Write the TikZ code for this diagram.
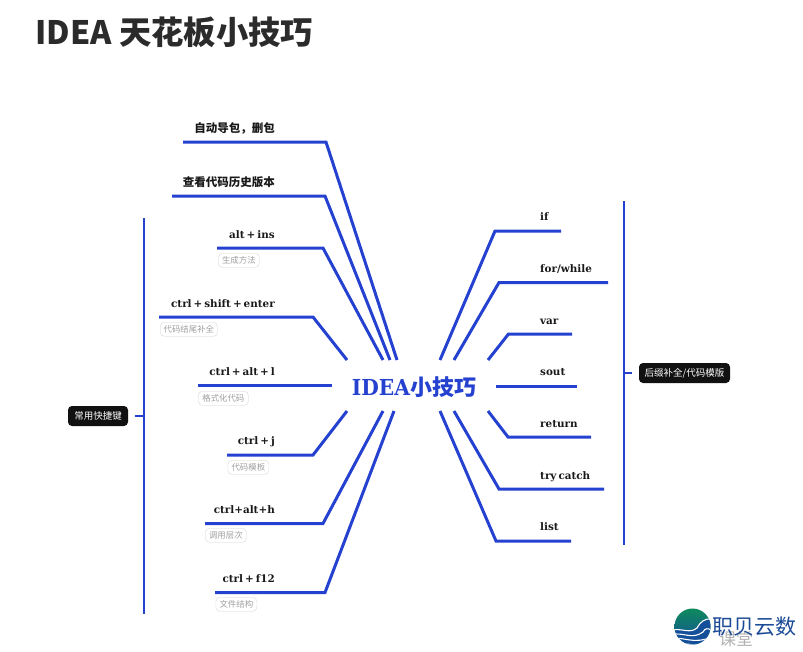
\documentclass[tikz,border=0pt]{standalone}
\usepackage{fontspec}
\usetikzlibrary{shadings}
\setmainfont{DejaVu Serif}
\newfontfamily\cjk{Noto Sans CJK SC}
\newfontfamily\lat[WordSpace=0.55]{DejaVu Serif}
\newfontfamily\hublat[FakeStretch=0.92]{DejaVu Serif}
\definecolor{lineblue}{HTML}{2541CF}
\definecolor{darkbox}{HTML}{111111}
\definecolor{titlecol}{HTML}{2B2B2B}
\definecolor{logoblue}{HTML}{14509A}
\definecolor{logogreen}{HTML}{0E8A5C}
\definecolor{logonavy}{HTML}{1B4A96}
\tikzset{
  x=1pt,y=-1pt,
  branch/.style={draw=lineblue,line width=3pt,line join=miter},
  bracket/.style={draw=lineblue,line width=2pt},
  tiptext/.style={inner sep=0pt,anchor=base east,font=\lat\bfseries\fontsize{10.4}{12}\selectfont,text=black!90},
  tiptextcjk/.style={inner sep=0pt,anchor=base east,font=\cjk\bfseries\fontsize{11.5}{13}\selectfont,text=black!90},
  righttext/.style={inner sep=0pt,anchor=base west,font=\lat\bfseries\fontsize{10.4}{12}\selectfont,text=black!90},
  notebox/.style={draw=black!10,rounded corners=4pt,line width=0.7pt,inner sep=0pt,minimum height=14pt,anchor=north west,font=\cjk\fontsize{8.4}{10}\selectfont,text=black!38},
  darktag/.style={fill=darkbox,rounded corners=4pt,inner sep=0pt,minimum height=20pt,text=white,font=\cjk\fontsize{9.5}{11}\selectfont},
  logowave/.style={draw=white,line width=1.1pt,line cap=round},
}
\begin{document}
\begin{tikzpicture}
\useasboundingbox (0,0) rectangle (803,651);
% title
\node[inner sep=0pt,anchor=base west,font=\cjk\bfseries\fontsize{32.3}{36}\selectfont,text=titlecol] (title) at (35,44) {IDEA 天花板小技巧};
% hub
\node[inner sep=0pt,text=lineblue,anchor=base,font=\fontsize{22}{26}\selectfont\bfseries] (hub) at (414,395) {\hublat IDEA\cjk 小技巧};
% hub anchor points
\foreach \n/\x/\y in {a/397/360,b/390/360,c/383/360,d/347/360,e/332/385.5,f/347/411,g/383/411,h/394/411,
  p/440/360,q/454/360,r/488/360,s/496/386,t/488/411,u/454/411,v/440/411}
  \coordinate (hub\n) at (\x,\y);
% left branches
\coordinate (la) at (183,142); \coordinate (ka) at (326,142);
\coordinate (lb) at (172,196); \coordinate (kb) at (325,196);
\coordinate (lc) at (217,248); \coordinate (kc) at (323,248);
\coordinate (ld) at (159,317); \coordinate (kd) at (313,317);
\coordinate (le) at (198,385.5);
\coordinate (lf) at (227,455); \coordinate (kf) at (313,455);
\coordinate (lg) at (205,523.5); \coordinate (kg) at (323,523.5);
\coordinate (lh) at (215,592.5); \coordinate (kh) at (325,592.5);
\draw[branch] (la) -- (ka) -- (huba);
\draw[branch] (lb) -- (kb) -- (hubb);
\draw[branch] (lc) -- (kc) -- (hubc);
\draw[branch] (ld) -- (kd) -- (hubd);
\draw[branch] (le) -- (hube);
\draw[branch] (lf) -- (kf) -- (hubf);
\draw[branch] (lg) -- (kg) -- (hubg);
\draw[branch] (lh) -- (kh) -- (hubh);
% right branches
\coordinate (rp) at (561,231); \coordinate (kp) at (495,231);
\coordinate (rq) at (608,282.5); \coordinate (kq) at (499,282.5);
\coordinate (rr) at (572,334); \coordinate (kr) at (508.5,334);
\coordinate (rs) at (577,386);
\coordinate (rt) at (591,437); \coordinate (kt) at (508,437);
\coordinate (ru) at (604,489); \coordinate (ku) at (499,489);
\coordinate (rv) at (571,541); \coordinate (kv) at (496,541);
\draw[branch] (hubp) -- (kp) -- (rp);
\draw[branch] (hubq) -- (kq) -- (rq);
\draw[branch] (hubr) -- (kr) -- (rr);
\draw[branch] (hubs) -- (rs);
\draw[branch] (hubt) -- (kt) -- (rt);
\draw[branch] (hubu) -- (ku) -- (ru);
\draw[branch] (hubv) -- (kv) -- (rv);
% left labels
\node[tiptextcjk] (ta) at (275,132) {自动导包，删包};
\node[tiptextcjk] (tb) at (275,186) {查看代码历史版本};
\node[tiptext] (tc) at (275,238) {alt + ins};
\node[tiptext] (td) at (275,307) {ctrl + shift + enter};
\node[tiptext] (te) at (275,375) {ctrl + alt + l};
\node[tiptext] (tf) at (275,444) {ctrl + j};
\node[tiptext] (tg) at (275,513) {ctrl+alt+h};
\node[tiptext] (th) at (275,582) {ctrl + f12};
% notes
\node[notebox,minimum width=41pt] (nc) at (218,253) {生成方法};
\node[notebox,minimum width=57pt] (nd) at (160,322) {代码结尾补全};
\node[notebox,minimum width=50pt] (ne) at (198,391) {格式化代码};
\node[notebox,minimum width=41pt] (nf) at (227.5,460) {代码模板};
\node[notebox,minimum width=41pt] (ng) at (205,528) {调用层次};
\node[notebox,minimum width=41pt] (nh) at (215.5,597) {文件结构};
% right labels
\node[righttext] (tp) at (540,220) {if};
\node[righttext] (tq) at (540,272) {for/while};
\node[righttext] (tr) at (540,324) {var};
\node[righttext] (ts) at (540,375) {sout};
\node[righttext] (tt) at (540,427) {return};
\node[righttext] (tu) at (540,479) {try catch};
\node[righttext] (tv) at (540,530) {list};
% brackets and tags
\node[darktag,minimum width=60pt] (keys) at (98,416) {常用快捷键};
\coordinate (lbt) at (143.5,218); \coordinate (lbb) at (143.5,614); \coordinate (lbm) at (143.5,416); \coordinate (lbs) at (135,416);
\draw[bracket] (lbt) -- (lbb);
\draw[bracket] (lbs) -- (lbm);
\node[darktag,minimum width=91pt] (suffix) at (684.5,373) {后缀补全/代码模版};
\coordinate (rbt) at (623.5,201); \coordinate (rbb) at (623.5,545); \coordinate (rbm) at (623.5,372.5); \coordinate (rbs) at (632,372.5);
\draw[bracket] (rbt) -- (rbb);
\draw[bracket] (rbs) -- (rbm);
% logo
\shade[top color=logogreen,bottom color=logoblue] (692.5,626.5) circle (18);
\begin{scope}
\clip (692.5,626.5) circle (18);
\fill[logoblue] (672,630) .. controls (682,628) and (690,634) .. (697,628) .. controls (700,622) and (705,618) .. (712,619) -- (712,650) -- (672,650) -- cycle;
\draw[logowave] (672,630) .. controls (682,628) and (690,634) .. (697,628) .. controls (700,622) and (705,618) .. (712,619);
\draw[logowave] (672,634.5) .. controls (684,632) and (692,640) .. (703,632) .. controls (705,628) and (708,628) .. (711,630);
\draw[logowave] (672,639) .. controls (684,636) and (692,645) .. (712,637);
\draw[logowave] (672,643.5) .. controls (684,641) and (694,649) .. (712,642);
\end{scope}
\node[inner sep=0pt,anchor=base west,font=\cjk\fontsize{17}{20}\selectfont,text=black!30] (wm) at (719,645) {课堂};
\node[inner sep=0pt,anchor=base west,font=\cjk\fontsize{21}{24}\selectfont,text=logonavy] (brand) at (712,634) {职贝云数};
\end{tikzpicture}
\end{document}
